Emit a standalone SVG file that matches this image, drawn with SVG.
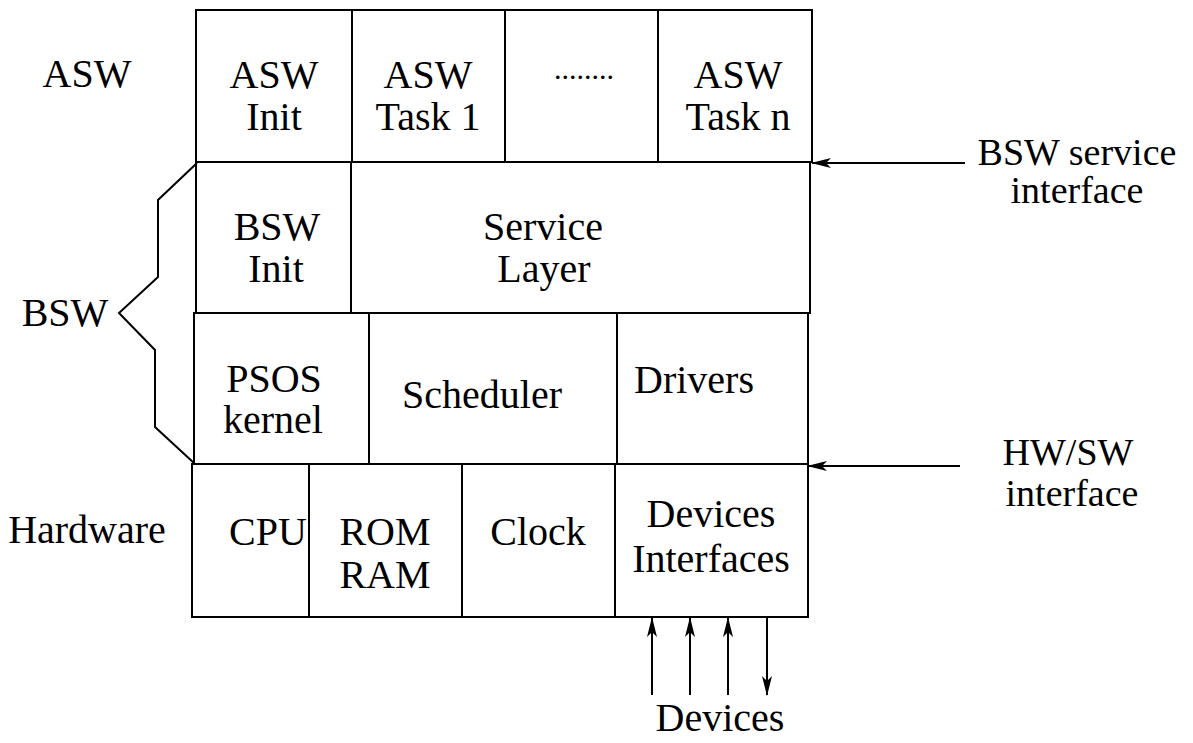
<svg xmlns="http://www.w3.org/2000/svg" width="1193" height="743" viewBox="0 0 1193 743">
<style>
.cell{fill:#fff;stroke:#000;stroke-width:2}
text{font-family:"Liberation Serif","Times New Roman",serif;font-size:40px;fill:#000;text-anchor:middle}
.side{font-size:38px}
.conn{stroke:#000;stroke-width:2;fill:none}
</style>
<defs>
<marker id="ah" viewBox="0 0 20 10" refX="19" refY="5" markerWidth="20" markerHeight="10" markerUnits="userSpaceOnUse" orient="auto">
<path d="M0,0 L20,5 L0,10 L5,5 z" fill="#000"/>
</marker>
</defs>
<rect width="1193" height="743" fill="#fff"/>
<g id="labels">
<text x="87" y="87">ASW</text>
<text x="65" y="326">BSW</text>
<text x="87" y="543">Hardware</text>
</g>
<g id="asw-init"><rect class="cell" x="196" y="10" width="156" height="152"/><text x="274" y="88">ASW</text><text x="274" y="130">Init</text></g>
<g id="asw-task1"><rect class="cell" x="352" y="10" width="153" height="152"/><text x="428" y="88">ASW</text><text x="428" y="130">Task 1</text></g>
<g id="asw-dots"><rect class="cell" x="505" y="10" width="153" height="152"/><text x="584" y="79" style="font-size:30px">........</text></g>
<g id="asw-taskn"><rect class="cell" x="658" y="10" width="154" height="152"/><text x="738" y="88">ASW</text><text x="738" y="130">Task n</text></g>
<g id="bsw-init"><rect class="cell" x="196" y="162" width="155" height="151"/><text x="277" y="240">BSW</text><text x="276" y="282">Init</text></g>
<g id="service-layer"><rect class="cell" x="351" y="162" width="459" height="151"/><text x="543" y="240">Service</text><text x="544" y="282">Layer</text></g>
<g id="psos-kernel"><rect class="cell" x="194" y="313" width="175" height="151"/><text x="274" y="392">PSOS</text><text x="273" y="433">kernel</text></g>
<g id="scheduler"><rect class="cell" x="369" y="313" width="248" height="151"/><text x="482" y="408">Scheduler</text></g>
<g id="drivers"><rect class="cell" x="617" y="313" width="191" height="151"/><text x="694" y="393">Drivers</text></g>
<g id="cpu"><rect class="cell" x="192" y="464" width="117" height="153"/><text x="268" y="545">CPU</text></g>
<g id="rom-ram"><rect class="cell" x="309" y="464" width="153" height="153"/><text x="385" y="545">ROM</text><text x="385" y="588">RAM</text></g>
<g id="clock"><rect class="cell" x="462" y="464" width="153" height="153"/><text x="538" y="545">Clock</text></g>
<g id="devices-interfaces"><rect class="cell" x="615" y="464" width="193" height="153"/><text x="711" y="527">Devices</text><text x="711" y="572">Interfaces</text></g>
<g id="brace"><polyline class="conn" points="197,163 158,200 158,277 119,313 155,350 155,427 194,463"/></g>
<g id="interfaces-labels">
<text class="side" x="1077" y="165">BSW service</text>
<text class="side" x="1077" y="203">interface</text>
<text class="side" x="1068" y="465">HW/SW</text>
<text class="side" x="1072" y="506">interface</text>
<text x="720" y="731">Devices</text>
</g>
<g id="connectors">
<line class="conn" x1="965" y1="163" x2="812" y2="163" marker-end="url(#ah)"/>
<line class="conn" x1="960" y1="466" x2="808" y2="466" marker-end="url(#ah)"/>
<line class="conn" x1="652" y1="695" x2="652" y2="618" marker-end="url(#ah)"/>
<line class="conn" x1="690" y1="695" x2="690" y2="618" marker-end="url(#ah)"/>
<line class="conn" x1="728" y1="695" x2="728" y2="618" marker-end="url(#ah)"/>
<line class="conn" x1="767" y1="618" x2="767" y2="695" marker-end="url(#ah)"/>
</g>
</svg>
